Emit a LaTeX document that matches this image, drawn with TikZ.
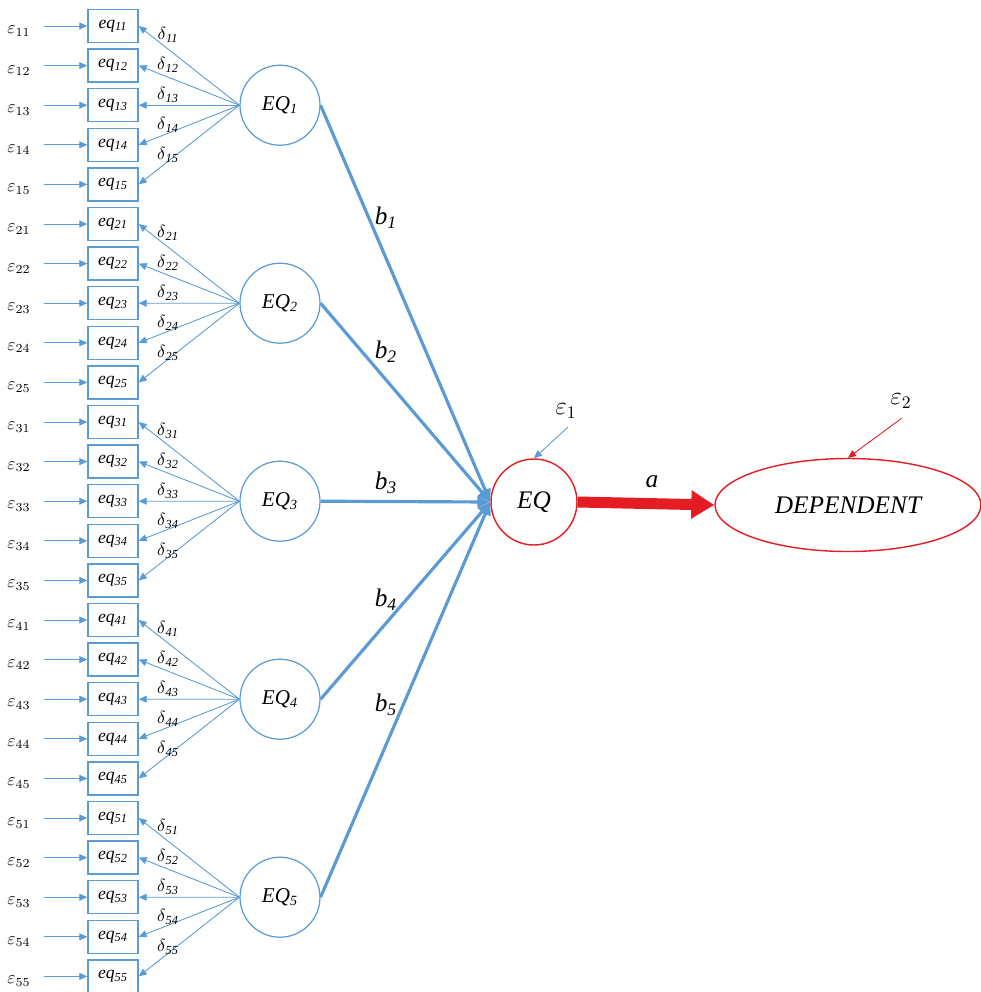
\documentclass[tikz,border=0pt]{standalone}
\usepackage{fontspec}
\setmainfont{Liberation Serif}
\usetikzlibrary{arrows.meta, positioning, shapes.geometric}
\definecolor{semblue}{RGB}{91,155,213}
\definecolor{semred}{RGB}{228,28,36}

\begin{document}
\begin{tikzpicture}[
  x=0.02cm, y=-0.02cm,
  ind/.style={rectangle, draw=semblue, line width=0.8pt, minimum width=1.0cm, minimum height=0.66cm, inner sep=0pt, font=\normalsize\itshape},
  lat/.style={circle, draw=semblue, line width=0.7pt, minimum size=1.6cm, inner sep=0pt, font=\large\itshape},
  errlbl/.style={inner sep=0pt, font=\normalsize},
  dlbl/.style={inner sep=0pt, font=\normalsize\itshape},
  blbl/.style={inner sep=0pt, font=\Large\itshape},
  thinarr/.style={-{Triangle[length=1.6mm, width=1.4mm]}, semblue, line width=0.5pt},
  patharr/.style={-{Triangle[length=2.6mm, width=2.2mm]}, semblue, line width=1.8pt}
]
\useasboundingbox (0,0) rectangle (981,992);

% measurement part
\foreach \g in {1,...,5} {
  \pgfmathsetmacro{\yc}{105.2+198*(\g-1)}
  \node[lat] (EQ\g) at (280,\yc) {EQ\textsubscript{\g}};
  \foreach \i in {1,...,5} {
    \pgfmathsetmacro{\yi}{26+39.6*(5*(\g-1)+\i-1)}
    \pgfmathsetmacro{\yd}{\yc-70+30*(\i-1)}
    \node[ind] (eq\g\i) at (113,\yi) {eq\textsubscript{\g\i}};
    \node[errlbl] (e\g\i) at (19,\yi+5) {$\varepsilon_{\g\i}$};
    \coordinate (s\g\i) at (44,\yi);
    \draw[thinarr] (s\g\i) -- (eq\g\i.west);
    \draw[thinarr] (EQ\g.west) -- (eq\g\i.east);
    \node[dlbl] (d\g\i) at (168,\yd) {$\delta$\textsubscript{\g\i}};
  }
}

% structural part
\node[circle, draw=semred, line width=0.8pt, minimum size=1.72cm, inner sep=0pt, font=\Large\itshape] (EQ) at (534,502) {EQ};
\node[ellipse, draw=semred, line width=0.8pt, minimum width=5.32cm, minimum height=1.86cm, inner sep=0pt, font=\Large\itshape] (DEP) at (848,505) {DEPENDENT};

\foreach \g/\by in {1/218, 2/352, 3/483, 4/600, 5/705} {
  \draw[patharr] (EQ\g.east) -- (EQ.west);
  \node[blbl] (b\g) at (386,\by) {b\textsubscript{\g}};
}

\draw[-{Triangle[length=4.6mm, width=5.4mm]}, semred, line width=2.2mm] (EQ.east) -- (DEP.west);
\node[blbl] (a) at (652,482) {a};

\node[inner sep=0pt, font=\Large] (eps1) at (566,411) {$\varepsilon_1$};
\coordinate (t1) at (568,427);
\draw[thinarr] (t1) -- (EQ.north);
\node[inner sep=0pt, font=\Large] (eps2) at (901,401) {$\varepsilon_2$};
\coordinate (t2) at (902,418);
\draw[-{Triangle[length=1.6mm, width=1.4mm]}, semred, line width=0.5pt] (t2) -- (DEP.north);
\end{tikzpicture}
\end{document}
